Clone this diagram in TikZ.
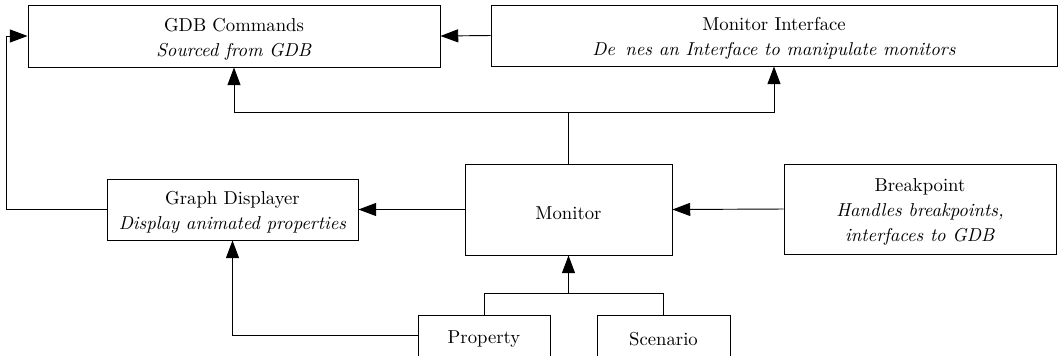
\documentclass[tikz,border=0pt]{standalone}
\usetikzlibrary{arrows.meta}
\newcommand{\stp}{\rule{0pt}{10.5pt}}
\begin{document}
\begin{tikzpicture}[x=0.535pt,y=-0.535pt]
\tikzset{
  box/.style={draw, line width=0.5pt, align=center, inner sep=0pt,
    font=\fontsize{10}{13.4}\selectfont},
  sz/.style 2 args={minimum width=#1*0.535pt, minimum height=#2*0.535pt},
  arr/.style={-{Triangle[length=9.5pt,width=7pt]}, line width=0.5pt},
  ln/.style={line width=0.5pt}
}
\useasboundingbox (0,0) rectangle (1059,355);
\node[box, sz={412}{62}] (gdb) at (234,36) {\stp GDB Commands\\\textit{Sourced from GDB}};
\node[box, sz={566}{61}] (mi) at (774,35.5) {\stp Monitor Interface\\\textit{De\hspace{0.55em}nes an Interface to manipulate monitors}};
\node[box, sz={207}{91}] (mon) at (568.5,209.5) {\stp Monitor};
\node[box, sz={251}{61}] (gd) at (232.5,209.5) {\stp Graph Displayer\\\textit{Display animated properties}};
\node[box, sz={272}{90}] (bp) at (920,209) {\stp Breakpoint\\\textit{Handles breakpoints,}\\\textit{interfaces to GDB}};
\node[box, sz={132}{41}] (prop) at (484,335.5) {\stp Property};
\node[box, sz={133}{41}] (scen) at (663.5,335.5) {\stp Scenario};
\coordinate (j) at (568.5,112);
\coordinate (jb) at (568.5,293);
\coordinate (lx) at (6,209.5);
% connectors
\draw[arr] (mi.west) -- (gdb.west -| gdb.east);
\draw[ln] (mon.north) -- (j);
\draw[arr] (j) -| (gdb.south);
\draw[arr] (j) -| (mi.south);
\draw[arr] (mon.west) -- (gd.east);
\draw[arr] (bp.west) -- (mon.east);
\draw[arr] (gd.west) -- (lx) |- (gdb.west);
\draw[ln] (prop.north) |- (scen.north |- jb) -- (scen.north);
\draw[arr] (jb) -- (mon.south);
\draw[arr] (prop.west) -| (gd.south);
\end{tikzpicture}
\end{document}
